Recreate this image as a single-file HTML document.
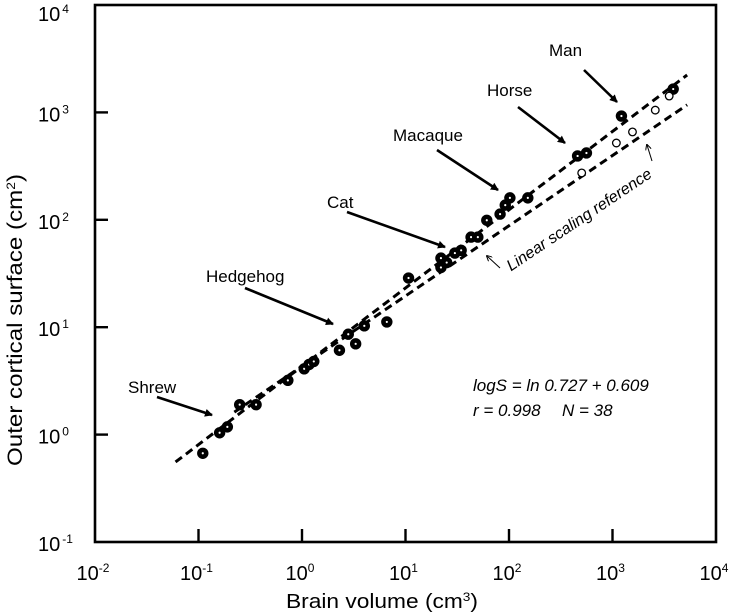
<!DOCTYPE html>
<html><head><meta charset="utf-8"><style>
body{margin:0;background:#fff;}
svg{display:block;font-family:"Liberation Sans",sans-serif;}
</style></head><body>
<svg id="chart" width="734" height="613" viewBox="0 0 734 613" xmlns="http://www.w3.org/2000/svg">
<g id="axes"></g><g id="lines"></g><g id="pts"></g><g id="ann"></g>
</svg>
<script>
const xTickExp = [-2,-1,0,1,2,3,4];
const yTickExp = [-1,0,1,2,3,4];
const filledVol = [0.11,0.16,0.19,0.25,0.36,0.73,1.05,1.17,1.3,2.3,3.3,2.8,4.0,6.6,10.7,22,22,25,30,34.5,43,50,61,82,92,102,152,460,560,1220,3860];
const filledSurf = [0.67,1.04,1.18,1.9,1.9,3.2,4.1,4.5,4.8,6.1,7.0,8.6,10.3,11.2,28.7,44,36,40,49,52,69,69,99,113,137,160,160,393,419,925,1650];
const openVol = [504,1090,1560,2590,3530];
const openSurf = [273,519,658,1050,1420];
const fitLineVol = [0.060,5260];
const fitLineSurf = [0.556,2230];
const refLineVol = [0.222,5260];
const refLineSurf = [1.62,1175];

const L=95,R=716,T=5,B=542;
const xs=v=>L+(Math.log10(v)+2)/6*(R-L);
const ys=v=>B-(Math.log10(v)+1)/5*(B-T);
const NS='http://www.w3.org/2000/svg';
function mk(tag,attrs,parent,text){const e=document.createElementNS(NS,tag);for(const k in attrs)e.setAttribute(k,attrs[k]);if(text!==undefined)e.textContent=text;parent.appendChild(e);return e;}
const axes=document.getElementById('axes'),lines=document.getElementById('lines'),pts=document.getElementById('pts'),ann=document.getElementById('ann');

const frame=mk('rect',{x:L,y:T,width:R-L,height:B-T,fill:'none',stroke:'#000','stroke-width':2.6},axes);



xTickExp.forEach(e=>{
  const x=xs(Math.pow(10,e));
  if(e>-2&&e<4){const t=mk('line',{x1:x,x2:x,y1:B,y2:B-13,stroke:'#000','stroke-width':2.4},axes);
  
  }
  const lab=mk('text',{x:x-2,y:580,'font-size':20,'text-anchor':'middle'},axes);
  
  
  mk('tspan',{},lab,'10');mk('tspan',{dy:-8,'font-size':12},lab,String(e));
});
yTickExp.forEach(e=>{
  const y=ys(Math.pow(10,e));
  if(e>-1&&e<4){const t=mk('line',{x1:L,x2:L+13,y1:y,y2:y,stroke:'#000','stroke-width':2.4},axes);
  
  }
  const by = e===4 ? 21 : y+9;
  const lab=mk('text',{x:38,y:by,'font-size':20},axes);
  
  
  mk('tspan',{},lab,'10');mk('tspan',{dy:-8,'font-size':12,dx:2},lab,String(e));
});
const xt=mk('text',{x:286,y:608,'font-size':20,textLength:192,lengthAdjust:'spacingAndGlyphs'},axes);


mk('tspan',{},xt,'Brain volume (cm');mk('tspan',{dy:-7,'font-size':12},xt,'3');mk('tspan',{dy:7},xt,')');
const yt=mk('text',{x:0,y:0,'font-size':21,textLength:292,lengthAdjust:'spacingAndGlyphs',transform:'translate(22,466) rotate(-90)'},axes);


mk('tspan',{},yt,'Outer cortical surface (cm');mk('tspan',{dy:-7,'font-size':12},yt,'2');mk('tspan',{dy:7},yt,')');

const fl=mk('line',{x1:xs(fitLineVol[0]),y1:ys(fitLineSurf[0]),x2:xs(fitLineVol[1]),y2:ys(fitLineSurf[1]),stroke:'#000','stroke-width':3,'stroke-dasharray':'8 5'},lines);


const rl=mk('line',{x1:xs(refLineVol[0]),y1:ys(refLineSurf[0]),x2:xs(refLineVol[1]),y2:ys(refLineSurf[1]),stroke:'#000','stroke-width':3,'stroke-dasharray':'8 5'},lines);



filledVol.forEach((v,i)=>{
  const c=mk('circle',{cx:xs(v),cy:ys(filledSurf[i]),r:3.4,fill:'#fff',stroke:'#000','stroke-width':4.6},pts);
  
  
});
openVol.forEach((v,i)=>{
  const c=mk('circle',{cx:xs(v),cy:ys(openSurf[i]),r:3.8,fill:'#fff',stroke:'#000','stroke-width':1.3},pts);
  
  
});

mk('defs',{},ann).innerHTML='<marker id="ah" markerWidth="8" markerHeight="8" refX="7" refY="4" orient="auto" markerUnits="userSpaceOnUse"><path d="M0,0 L8,4 L0,8 z" fill="#000"/></marker><marker id="ah2" markerWidth="6" markerHeight="6" refX="5" refY="3" orient="auto" markerUnits="userSpaceOnUse"><path d="M0,0 L6,3 L0,6" fill="none" stroke="#000" stroke-width="1"/></marker>';
const labels=[['Shrew',128,393,157,397,212,415,'shrew'],['Hedgehog',206,282,245,288,333,324,'hedgehog'],['Cat',327,208,347,212,445,247,'cat'],['Macaque',393,141,437,150,498,190,'macaque'],['Horse',487,96,518,107,565,143,'horse'],['Man',549,56,584,70,617,102,'man']];
labels.forEach(a=>{
  const t=mk('text',{x:a[1],y:a[2],'font-size':17},ann,a[0]);
  
  
  const l=mk('line',{x1:a[3],y1:a[4],x2:a[5],y2:a[6],stroke:'#000','stroke-width':2.6,'marker-end':'url(#ah)'},ann);
  
  
});
const lr=mk('text',{x:0,y:0,'font-size':16,'font-style':'italic','text-anchor':'middle',transform:'translate(582,224) rotate(-33.8)'},ann,'Linear scaling reference');


const a1=mk('line',{x1:500,y1:268,x2:487,y2:256,stroke:'#000','stroke-width':1,'marker-end':'url(#ah2)'},ann);


const a2=mk('line',{x1:652,y1:161,x2:647,y2:145,stroke:'#000','stroke-width':1,'marker-end':'url(#ah2)'},ann);


const eq=mk('text',{x:473,y:391,'font-size':17,'font-style':'italic'},ann,'logS = ln 0.727 + 0.609');


const st=mk('text',{x:473,y:416,'font-size':17,'font-style':'italic'},ann,'r = 0.998');


const sn=mk('text',{x:562,y:416,'font-size':17,'font-style':'italic'},ann,'N = 38');


</script>
</body></html>
